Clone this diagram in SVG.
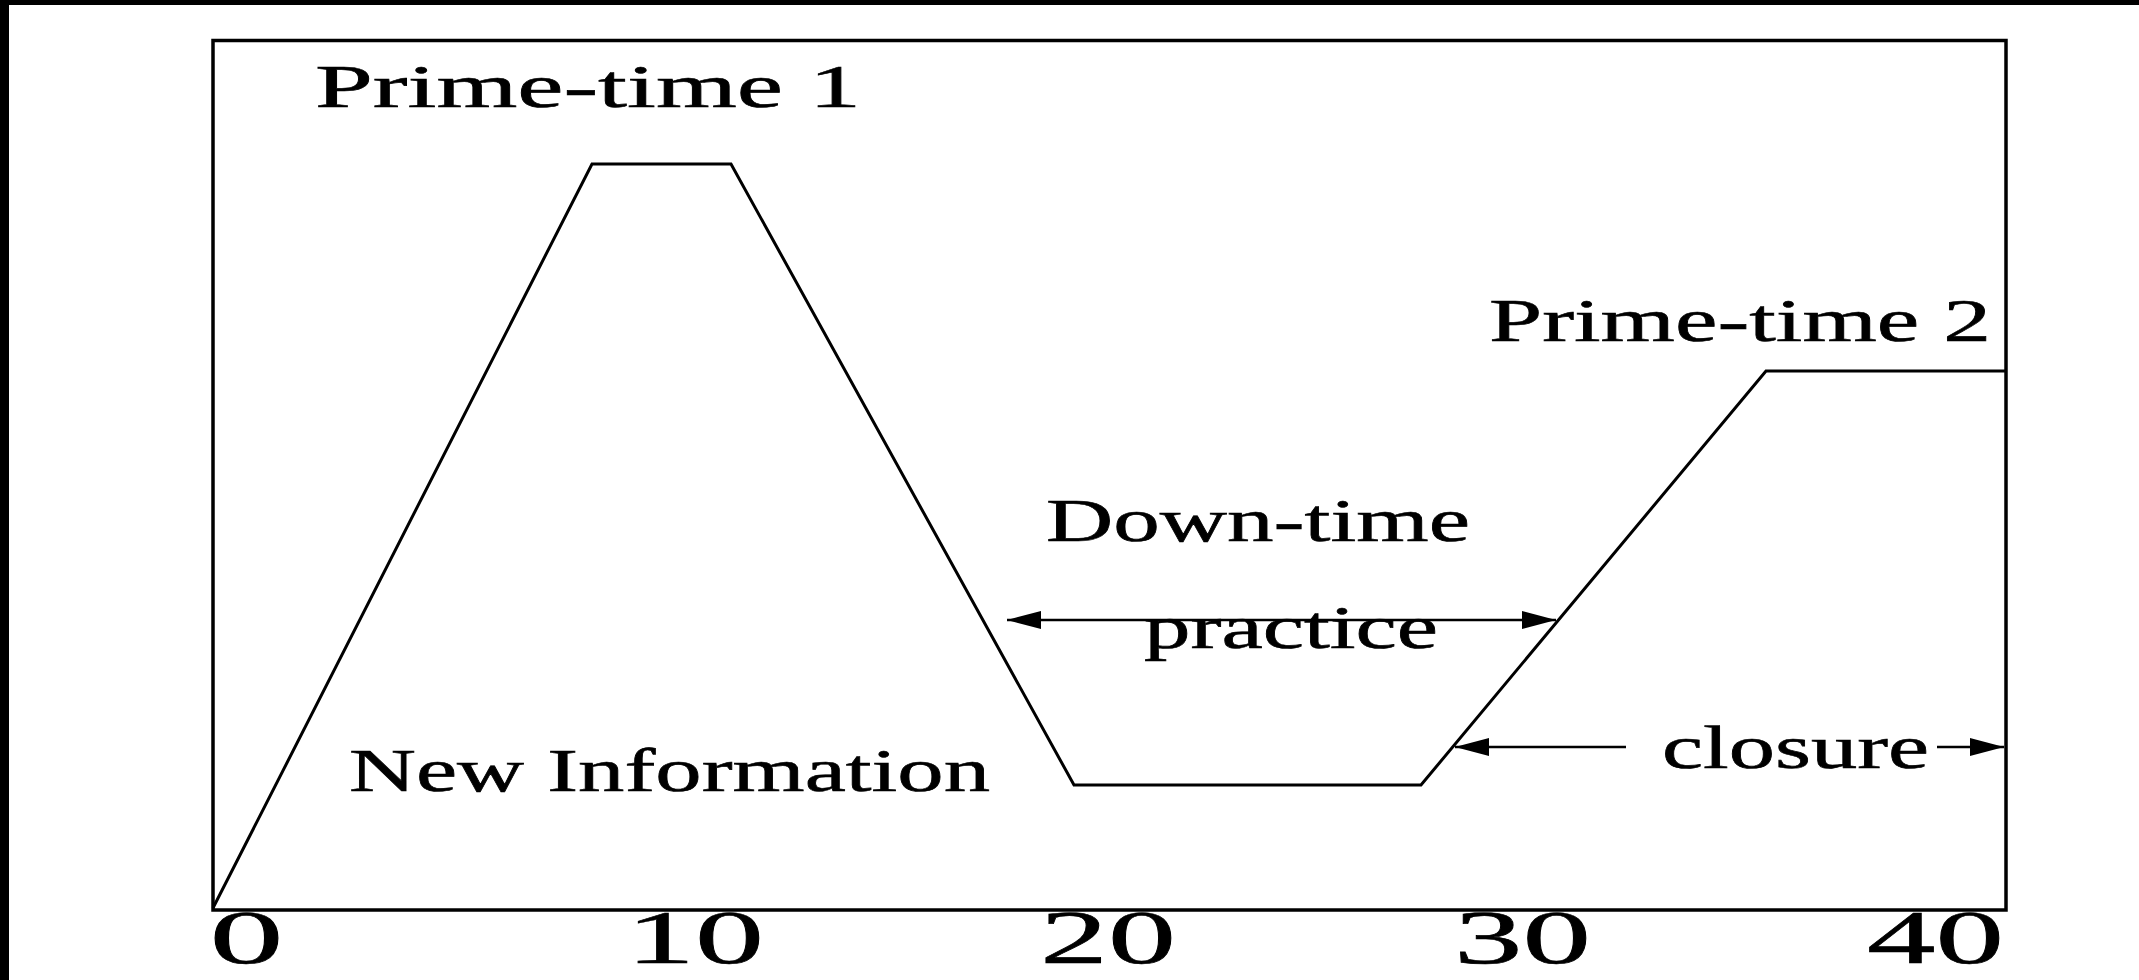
<svg xmlns="http://www.w3.org/2000/svg" width="2139" height="980" viewBox="0 0 2139 980">
  <style>
    .lbl { font-family: "Liberation Serif", "Times New Roman", serif; fill: #000; stroke: #000; stroke-width: 0.6; }
    .ln { fill: none; stroke: #000; stroke-linejoin: miter; }
  </style>
  <defs>
    <marker id="ah" viewBox="0 0 34 18" refX="34" refY="9" markerWidth="34" markerHeight="18" markerUnits="userSpaceOnUse" orient="auto-start-reverse">
      <path d="M0,0 L34,9 L0,18 Z" fill="#000"/>
    </marker>
  </defs>
  <rect x="0" y="0" width="2139" height="980" fill="#fff"/>
  <rect x="0" y="0" width="2139" height="5" fill="#000"/>
  <rect x="0" y="0" width="9" height="980" fill="#000"/>

  <g id="frame">
    <rect x="213" y="40.5" width="1793" height="869.5" class="ln" stroke-width="3.5"/>
  </g>

  <g id="curve">
    <polyline class="ln" stroke-width="3" points="213,908 592,164 731,164 1074,785 1421,785 1766,371 2006,371"/>
  </g>

  <g id="axis-labels">
    <text class="lbl" x="209.5" y="963" font-size="76" textLength="74" lengthAdjust="spacingAndGlyphs">0</text>
    <text class="lbl" x="626" y="963" font-size="76" textLength="138" lengthAdjust="spacingAndGlyphs">10</text>
    <text class="lbl" x="1040" y="963" font-size="76" textLength="136" lengthAdjust="spacingAndGlyphs">20</text>
    <text class="lbl" x="1454" y="963" font-size="76" textLength="137" lengthAdjust="spacingAndGlyphs">30</text>
    <text class="lbl" x="1867" y="963" font-size="76" textLength="137" lengthAdjust="spacingAndGlyphs">40</text>
  </g>

  <g id="prime-time-1">
    <text class="lbl" x="315" y="107" font-size="62" textLength="546" lengthAdjust="spacingAndGlyphs">Prime-time 1</text>
  </g>
  <g id="prime-time-2">
    <text class="lbl" x="1489" y="341" font-size="62" textLength="502" lengthAdjust="spacingAndGlyphs">Prime-time 2</text>
  </g>
  <g id="new-information">
    <text class="lbl" x="349" y="791" font-size="61" textLength="641" lengthAdjust="spacingAndGlyphs">New Information</text>
  </g>
  <g id="down-time">
    <text class="lbl" x="1046" y="541" font-size="61" textLength="424" lengthAdjust="spacingAndGlyphs">Down-time</text>
  </g>
  <g id="practice">
    <text class="lbl" x="1144" y="648" font-size="61" textLength="294" lengthAdjust="spacingAndGlyphs">practice</text>
  </g>
  <g id="closure">
    <text class="lbl" x="1662" y="768" font-size="61" textLength="267" lengthAdjust="spacingAndGlyphs">closure</text>
  </g>

  <g id="connectors">
    <line class="ln" stroke-width="2.5" x1="1007" y1="620" x2="1556" y2="620" marker-start="url(#ah)" marker-end="url(#ah)"/>
    <line class="ln" stroke-width="2.5" x1="1455" y1="747" x2="1626" y2="747" marker-start="url(#ah)"/>
    <line class="ln" stroke-width="2.5" x1="1937" y1="747" x2="2004" y2="747" marker-end="url(#ah)"/>
  </g>
</svg>
